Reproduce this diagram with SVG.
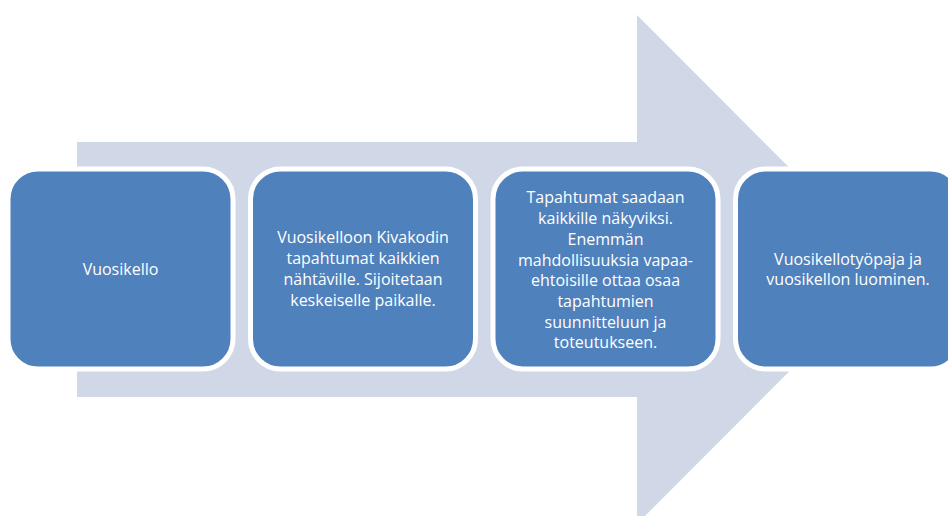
<svg xmlns="http://www.w3.org/2000/svg" width="948" height="516" viewBox="0 0 948 516">
<style>
.box{fill:#4F81BD;stroke:#FFFFFF;stroke-width:5}
.t{font-family:"Open Sans","Noto Sans",sans-serif;font-size:16px;fill:#FFFFFF;text-anchor:middle}
</style>
<rect width="948" height="516" fill="#FFFFFF"/>
<g id="arrow">
<polygon points="77,142 637,142 637,15 891,269.5 637,524 637,397 77,397" fill="#D0D8E8"/>
</g>
<g id="node1">
<rect class="box" x="8" y="169" width="225" height="200" rx="30"/>
<text class="t" x="120.5" y="275">Vuosikello</text>
</g>
<g id="node2">
<rect class="box" x="250.5" y="169" width="225" height="200" rx="30"/>
<text class="t" x="363" y="243">Vuosikelloon Kivakodin</text>
<text class="t" x="363" y="264">tapahtumat kaikkien</text>
<text class="t" x="363" y="285">nähtäville. Sijoitetaan</text>
<text class="t" x="363" y="306">keskeiselle paikalle.</text>
</g>
<g id="node3">
<rect class="box" x="493" y="169" width="225" height="200" rx="30"/>
<text class="t" x="605.5" y="203">Tapahtumat saadaan</text>
<text class="t" x="605.5" y="224">kaikkille näkyviksi.</text>
<text class="t" x="605.5" y="245">Enemmän</text>
<text class="t" x="605.5" y="265.5">mahdollisuuksia vapaa-</text>
<text class="t" x="605.5" y="286">ehtoisille ottaa osaa</text>
<text class="t" x="605.5" y="307">tapahtumien</text>
<text class="t" x="605.5" y="327.5">suunnitteluun ja</text>
<text class="t" x="605.5" y="348">toteutukseen.</text>
</g>
<g id="node4">
<rect class="box" x="735.5" y="169" width="225" height="200" rx="30"/>
<text class="t" x="848" y="265">Vuosikellotyöpaja ja</text>
<text class="t" x="848" y="285">vuosikellon luominen.</text>
</g>
<g id="connectors"></g>
</svg>
